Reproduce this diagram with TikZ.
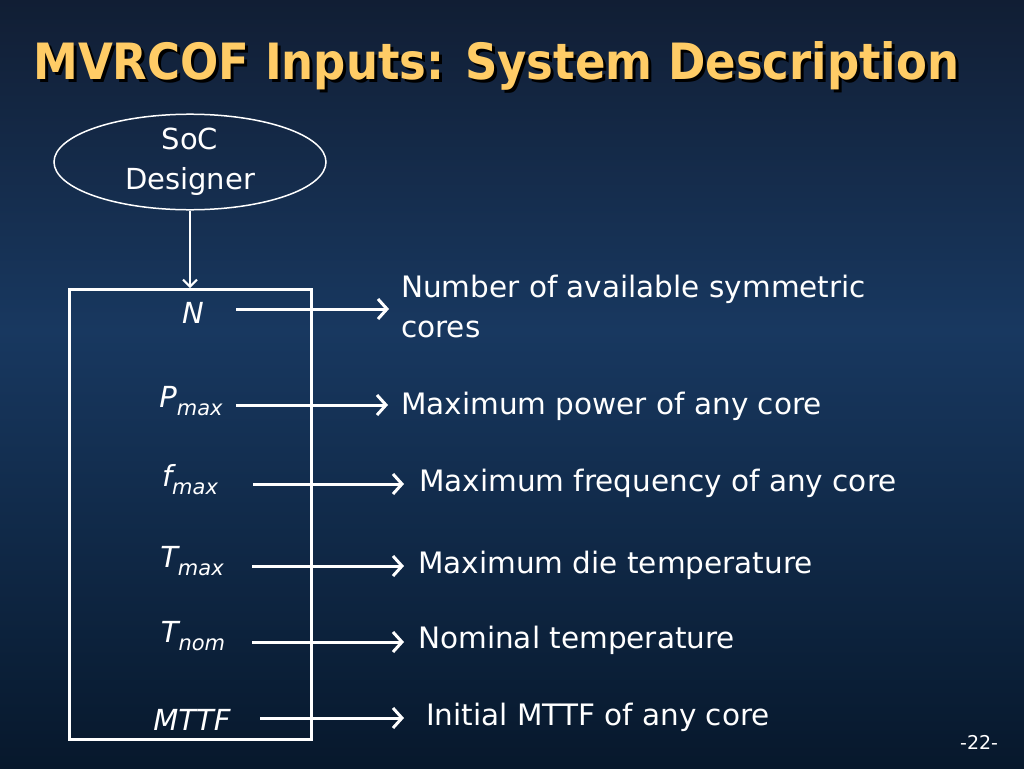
\documentclass[tikz,border=0pt]{standalone}
\usepackage{fontspec}
\setmainfont{DejaVu Sans}
\newfontfamily\headfont{DejaVu Sans Condensed}
\usetikzlibrary{positioning, shapes.geometric, arrows.meta}
\definecolor{bgtop}{RGB}{17,30,52}
\definecolor{bgmid}{RGB}{24,56,96}
\definecolor{bgbot}{RGB}{7,24,44}
\definecolor{gold}{RGB}{255,204,102}
\tikzset{
	designer/.style={draw=white, ellipse, line width=1.5pt, minimum width=272pt, minimum height=90pt, inner sep=0pt, text=white, align=center, font=\fontsize{29}{40}\selectfont},
	sysbox/.style={draw=white, rectangle, line width=2.5pt, inner sep=0pt},
	param/.style={anchor=base, inner sep=0pt, text=white, font=\fontsize{29}{36}\selectfont\itshape},
	desc/.style={anchor=base west, inner sep=0pt, text=white, align=left, font=\fontsize{29.5}{40}\selectfont},
	outarrow/.style={white, line width=3pt, -{Straight Barb[length=9pt, width=20pt]}},
	% slide heading, drawn twice for the shadow
	slidetitle/.style={anchor=base west, inner sep=0pt, font=\headfont\fontsize{50}{60}\selectfont\bfseries},
}
\newcommand{\lo}[1]{\raisebox{-8pt}{\fontsize{21}{22}\selectfont #1}}

\begin{document}
\begin{tikzpicture}[x=1pt, y=-1pt]
			\fill[top color=bgtop, bottom color=bgmid] (0,0) rectangle (1024,331);
			\fill[top color=bgmid, bottom color=bgbot] (0,330) rectangle (1024,768);
			
			\node (shadow) [slidetitle, text=black] at (36,82) {MVRCOF Inputs: System Description};
			\node (title) [slidetitle, text=gold] at (33,79) {MVRCOF Inputs: System Description};
			
			\node (soc) [designer] at (190,162) {SoC\\Designer};
			\node (sysbox) [sysbox, anchor=north west, minimum width=242pt, minimum height=450pt] at (68,288) {};
			
			\node (pN) [param] at (193,323) {N};
			\node (pP) [param] at (191,407) {P\lo{max}};
			\node (pf) [param] at (190,486) {f\lo{max}};
			\node (pT) [param] at (192,567) {T\lo{max}};
			\node (pTn) [param] at (193,642) {T\lo{nom}};
			\node (pM) [param] at (192,730) {MTTF};
			
			\node (dN) [desc] at (401,337) {Number of available symmetric\\cores};
			\node (dP) [desc] at (401,414) {Maximum power of any core};
			\node (df) [desc] at (419,491) {Maximum frequency of any core};
			\node (dT) [desc] at (418,573) {Maximum die temperature};
			\node (dTn) [desc] at (418,648) {Nominal temperature};
			\node (dM) [desc] at (426,725) {Initial MTTF of any core};
			
			\node (page) [desc, font=\fontsize{19}{24}\selectfont] at (960,749) {-22-};
			
			\coordinate (sN) at (236,309);
			\coordinate (sP) at (236,405);
			\coordinate (sf) at (253,484);
			\coordinate (sT) at (252,566);
			\coordinate (sTn) at (252,642);
			\coordinate (sM) at (260,718);
			
			\begin{scope}[white]
				\draw[line width=2pt, -{Straight Barb[length=7pt, width=14pt]}] (soc.south) -- (soc.south |- sysbox.north);
				
				\draw[outarrow, shorten >=12pt] (sN) -- (sN -| dN.west);
				\draw[outarrow, shorten >=13pt] (sP) -- (sP -| dP.west);
				\draw[outarrow, shorten >=15pt] (sf) -- (sf -| df.west);
				\draw[outarrow, shorten >=14pt] (sT) -- (sT -| dT.west);
				\draw[outarrow, shorten >=14pt] (sTn) -- (sTn -| dTn.west);
				\draw[outarrow, shorten >=22pt] (sM) -- (sM -| dM.west);
			\end{scope}
			
\end{tikzpicture}
\end{document}
